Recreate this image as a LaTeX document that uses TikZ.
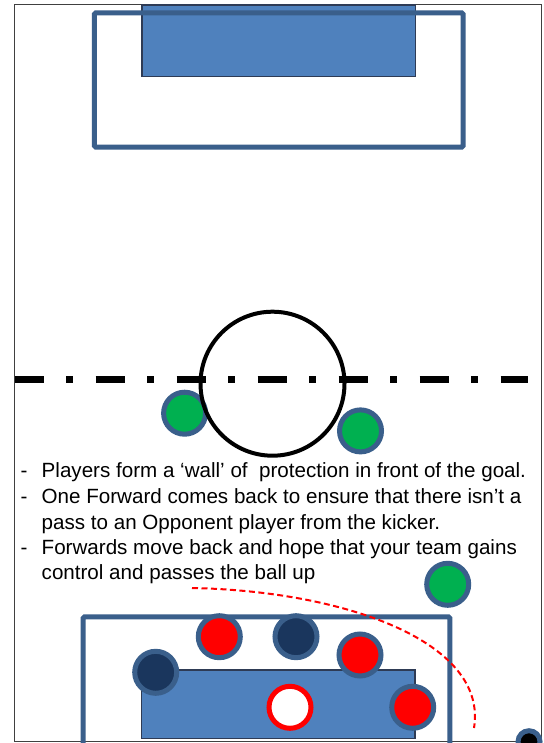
\documentclass[tikz,border=0pt]{standalone}
\usepackage{fontspec}
\setmainfont{Liberation Sans}
\usepackage{tikz}
\definecolor{boxc}{HTML}{3A5F8B}
\definecolor{goalfill}{HTML}{4F81BD}
\definecolor{goaledge}{HTML}{2E3B55}
\definecolor{greenc}{HTML}{00B050}
\definecolor{navyc}{HTML}{1A365D}
\definecolor{redc}{HTML}{FF0000}
\definecolor{fieldc}{HTML}{404040}

\tikzset{
  player/.style={circle, draw=boxc, line width=5pt, minimum size=42pt, inner sep=0pt},
  note/.style={anchor=base west, inner sep=0pt, font=\fontsize{20.6}{25}\selectfont}
}

\begin{document}
\begin{tikzpicture}[x=1pt, y=-1pt]
  \clip (0,0) rectangle (543,743);
  \fill[white] (0,0) rectangle (543,743);
  % field
  \draw[fieldc, line width=1pt] (14.5,5) rectangle (541.7,741.7);
  % top goal and box
  \filldraw[fill=goalfill, draw=goaledge, line width=1.5pt] (142,5) rectangle (415.5,76.5);
  \draw[boxc, line width=5pt, rounded corners=1.5pt] (94.3,12.9) rectangle (463.2,147.1);
  % half way line
  \draw[line width=7pt, dash pattern=on 29pt off 22.5pt on 7pt off 22.5pt] (14.5,379) -- (527.5,379);
  % players near the centre
  \node[player, fill=greenc] (gl) at (184.6,413.2) {};
  \node[player, fill=greenc] (gr) at (360.5,430.9) {};
  \draw[line width=4pt] (272.5,383.7) circle (72);
  % notes
  \node[note] (d1) at (20.5,477.7) {-};
  \node[note] (t1) at (41.5,477.7) {Players form a ‘wall’ of\ \ protection in front of the goal.};
  \node[note] (d2) at (20.5,503.7) {-};
  \node[note] (t2) at (41.5,503.7) {One Forward comes back to ensure that there isn’t a};
  \node[note] (t2b) at (41.5,529) {pass to an Opponent player from the kicker.};
  \node[note] (d3) at (20.5,554.6) {-};
  \node[note] (t3) at (41.5,554.6) {Forwards move back and hope that your team gains};
  \node[note] (t3b) at (41.5,579.8) {control and passes the ball up};
  % bottom box and goal
  \draw[boxc, line width=5pt, rounded corners=1.5pt] (83.2,760) -- (83.2,616.8) -- (449.8,616.8) -- (449.8,760);
  \filldraw[fill=goalfill, draw=goaledge, line width=1.5pt] (141.7,670) rectangle (415,738.3);
  % players near the goal
  \node[player, fill=greenc] (gf) at (447.7,584.3) {};
  \node[player, fill=redc] (r1) at (219.3,636.7) {};
  \node[player, fill=navyc] (n1) at (296,636.7) {};
  \node[player, fill=redc] (r2) at (360,655) {};
  \node[player, fill=navyc] (n2) at (155.7,672.3) {};
  \node[player, fill=redc] (r3) at (412.7,707.3) {};
  \node[player, draw=redc, fill=white] (gk) at (290,707.3) {};
  \node[circle, draw=boxc, fill=black, line width=5pt, minimum size=22pt, inner sep=0pt] (ball) at (529,741.7) {};
  % kick
  \coordinate (ks) at (192,588);
  \coordinate (ke) at (474,728);
  \draw[redc, line width=2pt, dash pattern=on 6pt off 3.5pt] (ks) .. controls (345,591) and (488,642) .. (ke);
\end{tikzpicture}
\end{document}
